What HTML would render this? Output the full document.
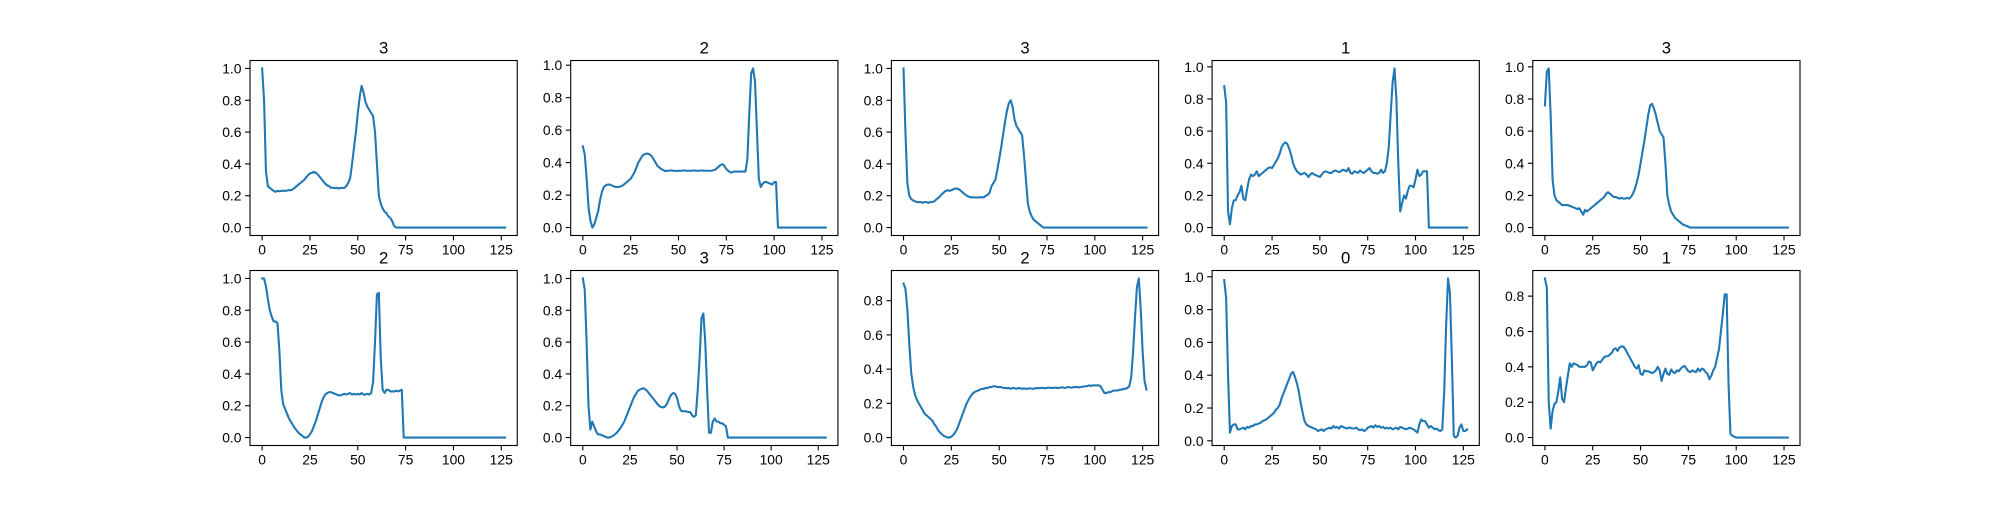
<!DOCTYPE html>
<html><head><meta charset="utf-8"><style>
html,body{margin:0;padding:0;background:#fff;}
svg text{font-family:"Liberation Sans","DejaVu Sans",sans-serif;fill:#000;}
</style></head><body>
<svg id="fig" width="2000" height="500" viewBox="0 0 2000 500" xmlns="http://www.w3.org/2000/svg">
<rect width="2000" height="500" fill="#fff"/>
</svg>
<script>
const titles = ["3","2","3","1","3","2","3","2","0","1"];
const xTicks = [0,25,50,75,100,125];
const s1 = [1.0,0.8,0.35,0.26,0.25,0.24,0.23,0.225,0.23,0.228,0.23,0.232,0.23,0.233,0.235,0.235,0.24,0.25,0.26,0.27,0.28,0.29,0.30,0.315,0.33,0.34,0.345,0.35,0.345,0.335,0.32,0.305,0.29,0.275,0.265,0.26,0.25,0.25,0.248,0.25,0.245,0.25,0.248,0.25,0.26,0.28,0.31,0.4,0.5,0.6,0.72,0.82,0.89,0.85,0.79,0.76,0.74,0.72,0.70,0.6,0.4,0.2,0.15,0.12,0.1,0.09,0.07,0.06,0.04,0.01,0,0,0,0,0,0,0,0,0,0,0,0,0,0,0,0,0,0,0,0,0,0,0,0,0,0,0,0,0,0,0,0,0,0,0,0,0,0,0,0,0,0,0,0,0,0,0,0,0,0,0,0,0,0,0,0,0,0];
const s2 = [0.5,0.45,0.3,0.12,0.04,0.0,0.02,0.06,0.1,0.17,0.22,0.25,0.26,0.265,0.265,0.26,0.255,0.25,0.25,0.25,0.255,0.26,0.27,0.28,0.29,0.30,0.32,0.34,0.37,0.40,0.42,0.44,0.45,0.455,0.455,0.45,0.44,0.42,0.40,0.38,0.37,0.36,0.355,0.348,0.35,0.35,0.352,0.35,0.35,0.348,0.35,0.35,0.35,0.352,0.35,0.35,0.35,0.35,0.352,0.35,0.35,0.35,0.352,0.35,0.35,0.35,0.35,0.35,0.352,0.355,0.365,0.375,0.385,0.39,0.38,0.36,0.35,0.34,0.34,0.345,0.345,0.345,0.345,0.345,0.345,0.345,0.42,0.7,0.95,0.98,0.9,0.6,0.3,0.25,0.27,0.28,0.28,0.275,0.27,0.265,0.28,0.28,0,0,0,0,0,0,0,0,0,0,0,0,0,0,0,0,0,0,0,0,0,0,0,0,0,0];
const s3 = [1.0,0.6,0.28,0.2,0.18,0.17,0.165,0.16,0.16,0.16,0.155,0.16,0.16,0.155,0.16,0.16,0.165,0.175,0.185,0.195,0.21,0.22,0.23,0.235,0.23,0.235,0.24,0.245,0.245,0.24,0.23,0.22,0.21,0.2,0.195,0.19,0.19,0.19,0.188,0.19,0.19,0.19,0.19,0.2,0.205,0.22,0.26,0.28,0.3,0.36,0.43,0.5,0.58,0.66,0.73,0.78,0.8,0.76,0.68,0.64,0.62,0.6,0.58,0.45,0.3,0.15,0.1,0.07,0.05,0.04,0.03,0.02,0.01,0,0,0,0,0,0,0,0,0,0,0,0,0,0,0,0,0,0,0,0,0,0,0,0,0,0,0,0,0,0,0,0,0,0,0,0,0,0,0,0,0,0,0,0,0,0,0,0,0,0,0,0,0,0,0];
const s4 = [0.88,0.78,0.1,0.02,0.12,0.17,0.17,0.2,0.22,0.26,0.18,0.17,0.24,0.3,0.33,0.32,0.33,0.35,0.32,0.33,0.34,0.35,0.36,0.37,0.375,0.37,0.39,0.41,0.43,0.46,0.5,0.52,0.53,0.52,0.49,0.45,0.4,0.37,0.35,0.34,0.33,0.335,0.34,0.33,0.315,0.33,0.34,0.33,0.325,0.32,0.315,0.33,0.345,0.35,0.345,0.34,0.34,0.35,0.355,0.35,0.345,0.35,0.36,0.355,0.35,0.37,0.34,0.335,0.35,0.345,0.34,0.355,0.345,0.34,0.35,0.36,0.37,0.35,0.34,0.34,0.335,0.34,0.36,0.34,0.35,0.4,0.5,0.7,0.9,0.99,0.8,0.4,0.1,0.15,0.2,0.18,0.23,0.26,0.26,0.25,0.3,0.36,0.32,0.33,0.35,0.35,0.35,0,0,0,0,0,0,0,0,0,0,0,0,0,0,0,0,0,0,0,0,0];
const s5 = [0.76,0.97,0.99,0.7,0.3,0.2,0.17,0.16,0.15,0.14,0.14,0.14,0.14,0.135,0.13,0.125,0.12,0.115,0.12,0.1,0.08,0.11,0.1,0.11,0.12,0.13,0.14,0.15,0.16,0.17,0.18,0.19,0.21,0.22,0.21,0.2,0.19,0.19,0.185,0.18,0.185,0.18,0.18,0.185,0.18,0.19,0.21,0.24,0.28,0.33,0.4,0.47,0.54,0.62,0.7,0.76,0.77,0.74,0.7,0.65,0.6,0.58,0.56,0.4,0.2,0.14,0.1,0.08,0.06,0.05,0.04,0.03,0.02,0.015,0.01,0.005,0,0,0,0,0,0,0,0,0,0,0,0,0,0,0,0,0,0,0,0,0,0,0,0,0,0,0,0,0,0,0,0,0,0,0,0,0,0,0,0,0,0,0,0,0,0,0,0,0,0,0,0];
const s6 = [1.0,1.0,0.95,0.87,0.8,0.76,0.73,0.73,0.72,0.55,0.3,0.21,0.18,0.15,0.12,0.1,0.08,0.06,0.045,0.03,0.02,0.01,0.0,0.0,0.005,0.02,0.04,0.07,0.1,0.14,0.18,0.22,0.25,0.27,0.28,0.285,0.285,0.28,0.275,0.27,0.265,0.265,0.27,0.275,0.27,0.275,0.28,0.27,0.275,0.27,0.275,0.27,0.28,0.27,0.27,0.275,0.27,0.28,0.35,0.6,0.9,0.91,0.5,0.3,0.28,0.3,0.3,0.29,0.29,0.29,0.295,0.29,0.295,0.3,0,0,0,0,0,0,0,0,0,0,0,0,0,0,0,0,0,0,0,0,0,0,0,0,0,0,0,0,0,0,0,0,0,0,0,0,0,0,0,0,0,0,0,0,0,0,0,0,0,0,0,0,0,0];
const s7 = [1.0,0.93,0.6,0.2,0.05,0.1,0.07,0.04,0.02,0.02,0.015,0.01,0.005,0.0,0.0,0.005,0.01,0.02,0.03,0.045,0.06,0.08,0.1,0.13,0.16,0.19,0.22,0.25,0.27,0.29,0.3,0.305,0.31,0.305,0.295,0.28,0.265,0.25,0.235,0.22,0.205,0.195,0.19,0.19,0.2,0.22,0.25,0.27,0.28,0.275,0.25,0.2,0.17,0.165,0.165,0.165,0.16,0.16,0.14,0.13,0.14,0.3,0.5,0.75,0.78,0.6,0.3,0.03,0.03,0.1,0.12,0.1,0.1,0.09,0.09,0.08,0.07,0,0,0,0,0,0,0,0,0,0,0,0,0,0,0,0,0,0,0,0,0,0,0,0,0,0,0,0,0,0,0,0,0,0,0,0,0,0,0,0,0,0,0,0,0,0,0,0,0,0,0,0,0];
const s8 = [0.9,0.87,0.75,0.55,0.38,0.3,0.25,0.22,0.2,0.18,0.16,0.14,0.13,0.12,0.11,0.1,0.08,0.065,0.045,0.03,0.02,0.01,0.005,0.0,0.0,0.005,0.015,0.03,0.05,0.08,0.11,0.14,0.17,0.2,0.22,0.24,0.255,0.265,0.27,0.275,0.28,0.285,0.285,0.29,0.29,0.295,0.295,0.3,0.3,0.295,0.295,0.295,0.29,0.29,0.288,0.29,0.285,0.29,0.288,0.285,0.29,0.288,0.285,0.287,0.285,0.285,0.288,0.286,0.285,0.288,0.29,0.288,0.29,0.29,0.288,0.29,0.292,0.29,0.29,0.292,0.29,0.29,0.292,0.294,0.29,0.292,0.295,0.293,0.292,0.295,0.296,0.295,0.293,0.296,0.298,0.3,0.3,0.305,0.302,0.305,0.305,0.305,0.305,0.3,0.28,0.26,0.26,0.265,0.265,0.27,0.275,0.275,0.275,0.28,0.28,0.285,0.285,0.29,0.3,0.35,0.5,0.7,0.88,0.93,0.75,0.5,0.33,0.28];
const s9 = [0.98,0.87,0.4,0.05,0.09,0.1,0.1,0.07,0.07,0.075,0.08,0.07,0.085,0.08,0.09,0.09,0.1,0.1,0.105,0.11,0.12,0.125,0.13,0.14,0.15,0.16,0.17,0.19,0.2,0.22,0.26,0.29,0.32,0.35,0.38,0.41,0.42,0.39,0.35,0.3,0.23,0.17,0.12,0.1,0.09,0.085,0.08,0.075,0.07,0.06,0.065,0.07,0.06,0.07,0.075,0.08,0.075,0.09,0.08,0.085,0.075,0.09,0.085,0.08,0.075,0.08,0.08,0.075,0.075,0.08,0.07,0.065,0.07,0.06,0.065,0.08,0.085,0.09,0.08,0.095,0.085,0.09,0.08,0.085,0.075,0.08,0.075,0.08,0.07,0.075,0.08,0.07,0.085,0.08,0.075,0.07,0.075,0.08,0.075,0.07,0.06,0.05,0.1,0.13,0.12,0.12,0.1,0.08,0.09,0.08,0.07,0.075,0.065,0.06,0.07,0.3,0.7,0.99,0.9,0.5,0.03,0.02,0.03,0.08,0.1,0.06,0.06,0.07];
const s10 = [0.9,0.85,0.2,0.05,0.15,0.19,0.2,0.26,0.34,0.22,0.2,0.28,0.35,0.42,0.4,0.42,0.415,0.41,0.4,0.4,0.4,0.4,0.41,0.43,0.425,0.38,0.4,0.42,0.43,0.425,0.44,0.455,0.46,0.46,0.47,0.48,0.5,0.505,0.49,0.51,0.515,0.515,0.5,0.48,0.46,0.44,0.42,0.4,0.39,0.41,0.36,0.355,0.38,0.375,0.375,0.37,0.365,0.37,0.38,0.4,0.38,0.32,0.36,0.39,0.36,0.355,0.385,0.37,0.365,0.38,0.375,0.39,0.4,0.405,0.39,0.375,0.37,0.38,0.375,0.37,0.39,0.375,0.39,0.385,0.37,0.36,0.33,0.35,0.38,0.4,0.45,0.5,0.6,0.7,0.81,0.81,0.3,0.02,0.01,0.005,0,0,0,0,0,0,0,0,0,0,0,0,0,0,0,0,0,0,0,0,0,0,0,0,0,0,0,0];
const series = [s1,s2,s3,s4,s5,s6,s7,s8,s9,s10];

const NS = "http://www.w3.org/2000/svg";
const svg = document.getElementById('fig');
function mk(tag, attrs, parent){const e=document.createElementNS(NS,tag);for(const k in attrs)e.setAttribute(k,attrs[k]);parent.appendChild(e);return e;}
const W=267.24, G=53.45, L=250, H=175, R1=60.5, R2=270.5;
series.forEach((data,i)=>{
  const col=i%5,row=Math.floor(i/5);
  const x0=L+col*(W+G), y0=row?R2:R1;
  const g=mk('g',{},svg);
  
  
  const n=data.length, xmin=0, xmax=n-1, xpad=(xmax-xmin)*0.05;
  const ymin=Math.min(...data), ymax=Math.max(...data), ypad=(ymax-ymin)*0.05;
  const xs=v=>x0+(v-(xmin-xpad))/((xmax-xmin)+2*xpad)*W;
  const ys=v=>y0+H-(v-(ymin-ypad))/((ymax-ymin)+2*ypad)*H;
  let d=''; data.forEach((v,k)=>{d+=(k?'L':'M')+xs(k).toFixed(2)+','+ys(v).toFixed(2);});
  const p=mk('path',{d:d,fill:'none',stroke:'#1f77b4','stroke-width':2.08,'stroke-linejoin':'round','stroke-linecap':'square'},g);
  
  
  const fr=mk('rect',{x:x0,y:y0,width:W,height:H,fill:'none',stroke:'#000','stroke-width':1.1},g);
  
  
  xTicks.forEach(t=>{
    const x=xs(t);
    mk('line',{x1:x,x2:x,y1:y0+H,y2:y0+H+4.9,stroke:'#000','stroke-width':1.1},g);
    const tx=mk('text',{x:x,y:y0+H+19,'font-size':13.9,'text-anchor':'middle'},g);
    tx.textContent=t;
    
    
  });
  for(let k=0;k<=5;k++){
    const t=k*0.2; if(t<ymin-ypad-1e-9||t>ymax+ypad+1e-9)continue;
    const y=ys(t);
    mk('line',{x1:x0-4.9,x2:x0,y1:y,y2:y,stroke:'#000','stroke-width':1.1},g);
    const ty=mk('text',{x:x0-8.5,y:y+5,'font-size':13.9,'text-anchor':'end'},g);
    ty.textContent=t.toFixed(1);
    
    
  }
  const tt=mk('text',{x:x0+W/2,y:y0-7,'font-size':16.7,'text-anchor':'middle'},g);
  tt.textContent=titles[i];
  
  
});
</script>
</body></html>
